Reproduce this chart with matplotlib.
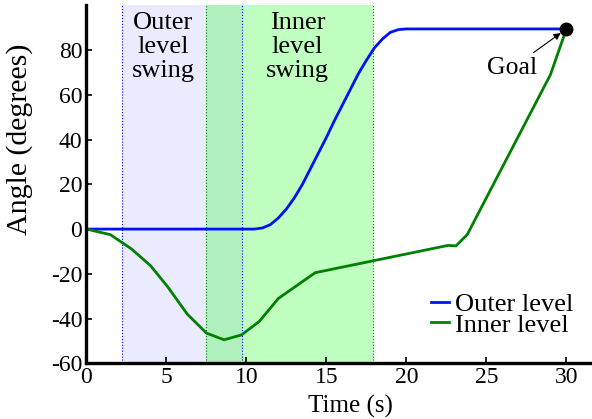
import numpy as np
import matplotlib
matplotlib.use('Agg')
import matplotlib.pyplot as plt

plt.rcParams['font.family'] = ['Liberation Serif', 'DejaVu Serif']
plt.rcParams['axes.unicode_minus'] = False

# outer level (blue) trajectory
outer_t = [0, 10.5, 11, 11.5, 12, 12.5, 13, 13.5, 14, 14.5, 15, 15.5, 16, 16.5,
           17, 17.5, 18, 18.5, 19, 19.5, 20, 30]
outer_a = [0, 0, 0.5, 2, 5, 9, 14, 20, 27, 34, 41, 48.5, 55.5, 62.5,
           69.5, 75.5, 81, 85, 88, 89.2, 89.5, 89.5]

# inner level (green) trajectory
inner_t = [0, 1.5, 2.8, 4.0, 5.1, 6.3, 7.5, 8.6, 9.7, 10.8, 12.0, 14.3,
           22.6, 23.1, 23.8, 29.0, 30.0]
inner_a = [0, -2.5, -8.8, -16.3, -26, -38, -46.5, -49.5, -47.3, -41.3, -31,
           -19.5, -7.3, -7.5, -2.5, 69, 89.5]

outer_swing = (2.2, 9.7)
inner_swing = (7.5, 17.9)
goal = (30, 89.5)

fig = plt.figure(figsize=(5.92, 4.19), dpi=100)
ax = fig.add_axes([0.146, 0.133, 0.854, 0.854])

ax.axvspan(*outer_swing, color='blue', alpha=0.08, lw=0)
ax.axvspan(*inner_swing, color='lime', alpha=0.25, lw=0)
for x in outer_swing:
    ax.axvline(x, color='blue', ls=':', lw=0.8)
for x in inner_swing:
    ax.axvline(x, color='green', ls=':', lw=0.8)

ax.plot(outer_t, outer_a, color='#0010ff', lw=2, label='Outer level')
ax.plot(inner_t, inner_a, color='#008000', lw=2, label='Inner level')
ax.plot(*goal, 'ko', ms=9, clip_on=False)

ax.annotate('Goal', xy=goal, xytext=(26.6, 72), fontsize=18.5,
            ha='center', va='center',
            arrowprops=dict(arrowstyle='-|>', color='k', lw=0.8,
                            shrinkA=2, shrinkB=5, mutation_scale=10))

ax.text(4.8, 97, 'Outer\nlevel\nswing', ha='center', va='top', fontsize=19,
        linespacing=1.12)
ax.text(13.2, 97, 'Inner\nlevel\nswing', ha='center', va='top', fontsize=19,
        linespacing=1.12)

ax.set_xlim(0, 31.6)
ax.set_ylim(-60, 100)
ax.set_xticks([0, 5, 10, 15, 20, 25, 30])
ax.set_yticks([-60, -40, -20, 0, 20, 40, 60, 80])
ax.tick_params(direction='in', length=4, width=1.2, labelsize=17, pad=3)
for s in ['top', 'right']:
    ax.spines[s].set_visible(False)
for s in ['left', 'bottom']:
    ax.spines[s].set_linewidth(2.4)

ax.set_xlabel('Time (s)', fontsize=18)
ax.xaxis.set_label_coords(0.522, -0.088)
ax.set_ylabel('Angle (degrees)', fontsize=21.5)
ax.yaxis.set_label_coords(-0.105, 0.626)

ax.legend(loc='lower right', bbox_to_anchor=(0.99, 0.165),
          bbox_transform=fig.transFigure, frameon=False, fontsize=19,
          handlelength=0.7, handletextpad=0.2, labelspacing=-0.12,
          borderpad=0)

fig.savefig('out.png', dpi=100)
